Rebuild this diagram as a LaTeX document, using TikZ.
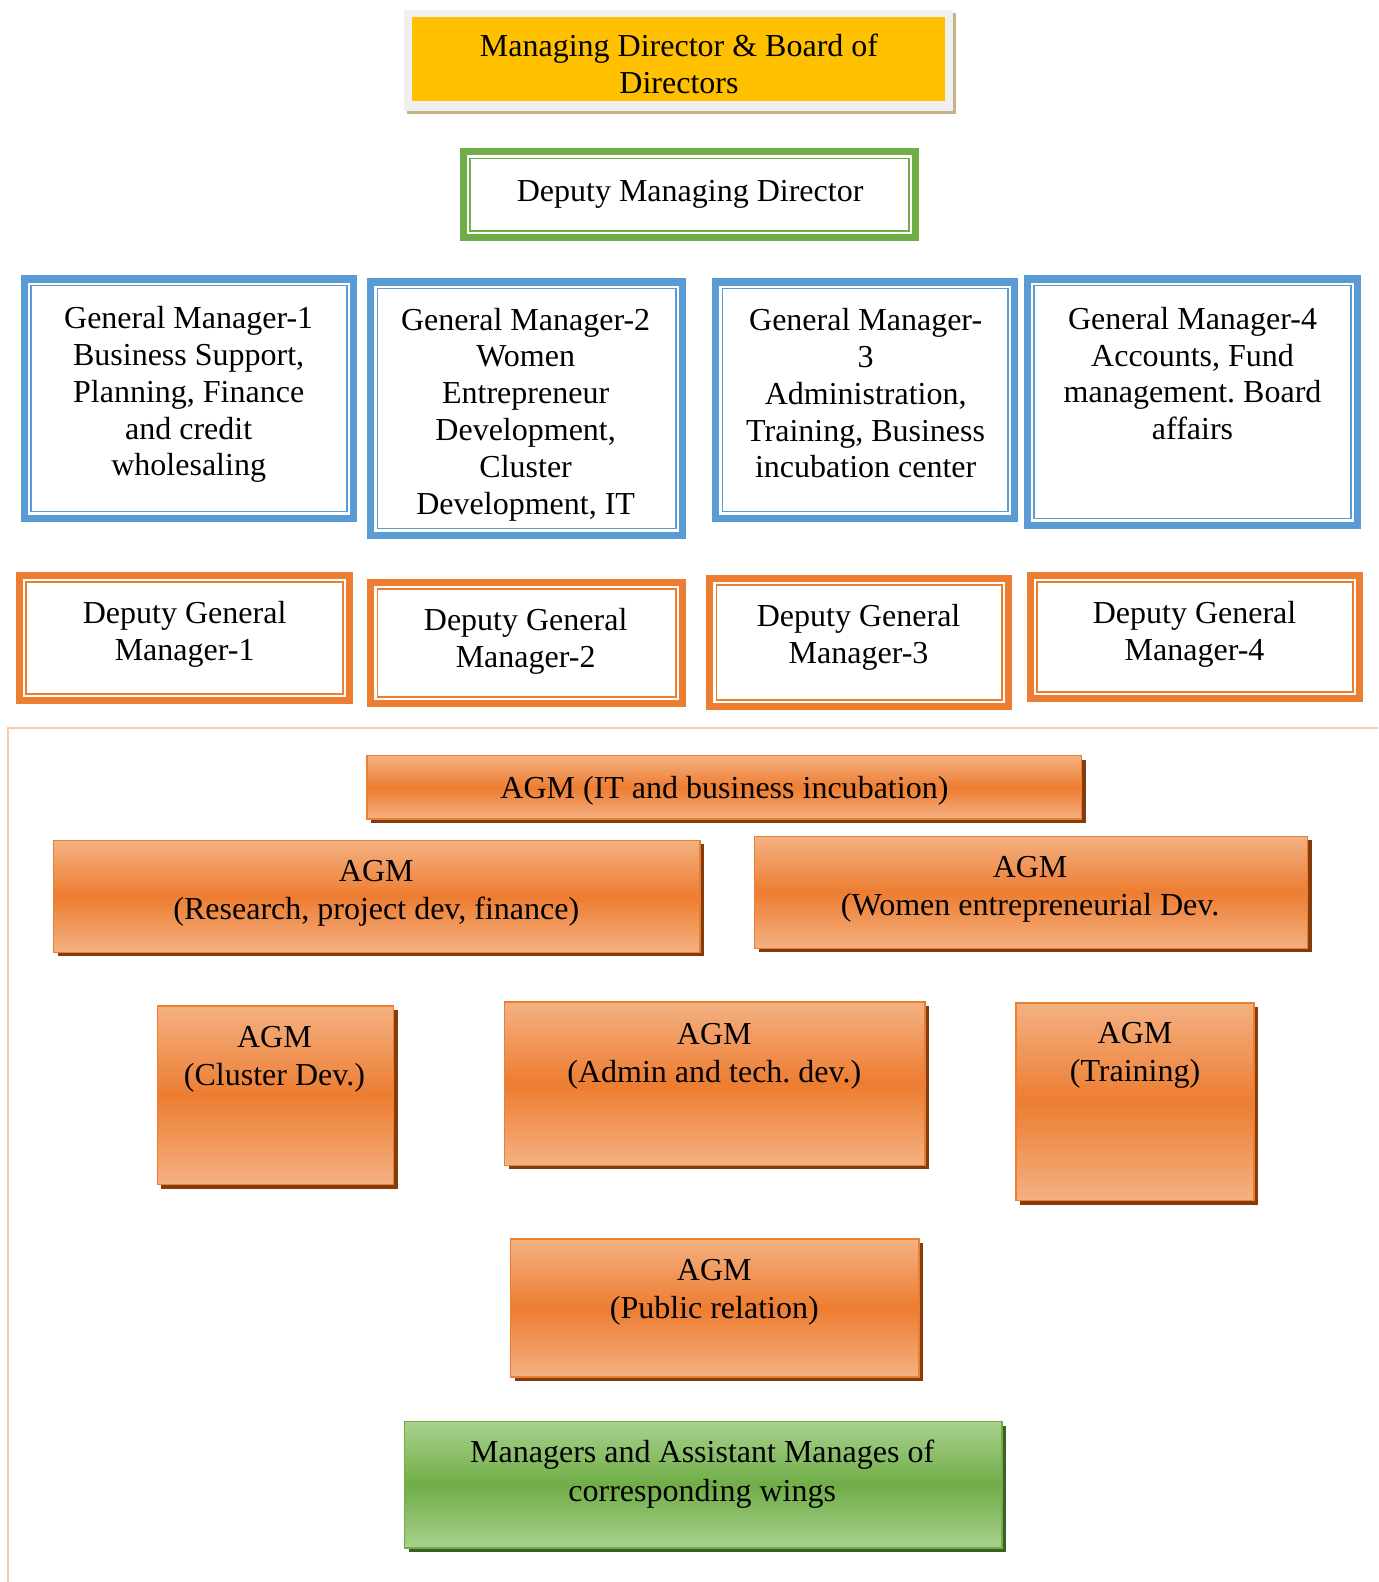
\documentclass[tikz,border=0pt]{standalone}
\usepackage{fontspec}
\setmainfont{Liberation Serif}
\frenchspacing
\definecolor{blueb}{HTML}{5B9BD5}
\definecolor{orangeb}{HTML}{ED7D31}
\definecolor{greenb}{HTML}{70AD47}
\definecolor{yellowb}{HTML}{FFC000}
\definecolor{grayb}{HTML}{F0F0F0}
\definecolor{tanb}{HTML}{C4B38A}
\definecolor{agmlight}{HTML}{F4B183}
\definecolor{agmshadow}{HTML}{843C0C}
\definecolor{grnlight}{HTML}{A9D18E}
\definecolor{grnshadow}{HTML}{3F5F28}
\definecolor{framec}{HTML}{F8CBAD}
\newcommand\dblbox[5]{%
  \fill[#1] (#2,#3) rectangle (#4,#5);
  \fill[white] (#2+7,#3+7) rectangle (#4-7,#5-7);
  \draw[#1, line width=1.6pt] (#2+10,#3+10) rectangle (#4-10,#5-10);
}
\newcommand\agmbox[4]{%
  \fill[agmshadow] (#1+4,#2+4) rectangle (#3+4,#4+4);
  \shade[top color=agmlight, bottom color=agmlight, middle color=orangeb] (#1,#2) rectangle (#3,#4);
  \draw[orangeb, line width=1.6pt] (#1,#2) rectangle (#3,#4);
}
\tikzset{
  txt/.style={font=\fontsize{32}{36.9}\selectfont, align=center, inner sep=0pt, text=black, yshift=-1.8pt},
  atxt/.style={font=\fontsize{32}{38.3}\selectfont, align=center, inner sep=0pt, text=black, yshift=-1.8pt},
  gtxt/.style={font=\fontsize{32}{39.3}\selectfont, align=center, inner sep=0pt, text=black, yshift=-1.8pt},
}
\begin{document}
\begin{tikzpicture}[x=1.0088pt, y=-1.0088pt]
\useasboundingbox (0,0) rectangle (1366,1568);
% Managing Director box
\fill[tanb] (403,13) rectangle (948,113);
\fill[grayb] (400,10) rectangle (945,110);
\fill[yellowb] (408,17) rectangle (937,100);
\node[txt] (md) at (673,65) {\strut Managing Director \& Board of\\Directors\strut};
% Deputy MD
\dblbox{greenb}{456}{147}{911}{239}
\node[txt] (dmd) at (684,191) {\strut Deputy Managing Director};
% General managers
\dblbox{blueb}{21}{273}{354}{517}
\node[txt] (gm1) at (187,389.5) {\strut General Manager-1\\Business Support,\\Planning, Finance\\and credit\\wholesaling\strut};
\dblbox{blueb}{364}{276}{680}{534}
\node[txt] (gm2) at (521,409.5) {\strut General Manager-2\\Women\\Entrepreneur\\Development,\\Cluster\\Development, IT\strut};
\dblbox{blueb}{706}{276}{1009}{517}
\node[txt] (gm3) at (858,391.5) {\strut General Manager-\\3\\Administration,\\Training, Business\\incubation center\strut};
\dblbox{blueb}{1015}{273}{1349}{524}
\node[txt] (gm4) at (1182,372) {\strut General Manager-4\\Accounts, Fund\\management. Board\\affairs\strut};
% Deputy general managers
\dblbox{orangeb}{16}{567}{350}{698}
\node[txt] (dgm1) at (183,627.5) {\strut Deputy General\\Manager-1\strut};
\dblbox{orangeb}{364}{574}{680}{701}
\node[txt] (dgm2) at (521,634.5) {\strut Deputy General\\Manager-2\strut};
\dblbox{orangeb}{700}{570}{1003}{704}
\node[txt] (dgm3) at (851,630) {\strut Deputy General\\Manager-3\strut};
\dblbox{orangeb}{1018}{567}{1351}{696}
\node[txt] (dgm4) at (1184,627.5) {\strut Deputy General\\Manager-4\strut};
% frame
\draw[framec, line width=2pt] (1366,722) -- (8,722) -- (8,1568);
% AGM boxes
\agmbox{364}{749}{1072}{812}
\node[atxt] (agmit) at (718,782) {\strut AGM (IT and business incubation)};
\agmbox{53}{833}{694}{944}
\node[atxt] (agmr) at (373,883) {\strut AGM\\(Research, project dev, finance)\strut};
\agmbox{748}{829}{1296}{940}
\node[atxt] (agmw) at (1021,879) {\strut AGM\\(Women entrepreneurial Dev.\strut};
\agmbox{156}{997}{390}{1174}
\node[atxt] (agmc) at (272,1047.5) {\strut AGM\\(Cluster Dev.)\strut};
\agmbox{500}{993}{917}{1155}
\node[atxt] (agma) at (708,1044.5) {\strut AGM\\(Admin and tech. dev.)\strut};
\agmbox{1007}{994}{1243}{1190}
\node[atxt] (agmt) at (1125,1044) {\strut AGM\\(Training)\strut};
\agmbox{506}{1228}{911}{1365}
\node[atxt] (agmp) at (708,1278.5) {\strut AGM\\(Public relation)\strut};
% Managers box
\fill[grnshadow] (405,1413) rectangle (997,1538);
\shade[top color=grnlight, bottom color=grnlight, middle color=greenb] (401,1409) rectangle (993,1534);
\draw[greenb, line width=1.6pt] (401,1409) rectangle (993,1534);
\node[gtxt] (mgr) at (696,1459.5) {\strut Managers and Assistant Manages of\\corresponding wings\strut};
\end{tikzpicture}
\end{document}
